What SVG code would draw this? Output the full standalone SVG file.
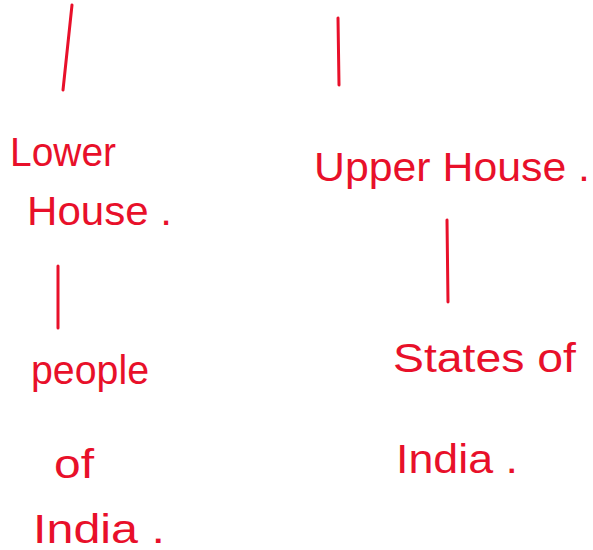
<svg xmlns="http://www.w3.org/2000/svg" width="593" height="550" viewBox="0 0 593 550">
<style>
.t{font-family:"Liberation Sans","DejaVu Sans",sans-serif;font-size:40px;fill:#e8102a;font-weight:normal}
.c{stroke:#e8102a;stroke-width:3;stroke-linecap:round;fill:none}
</style>
<rect width="593" height="550" fill="#ffffff"/>
<g id="connectors">
<path class="c" d="M72 5 L63 90"/>
<path class="c" d="M58 266 L58 328"/>
<path class="c" d="M338 18 L339 85"/>
<path class="c" d="M447 220 L448 302"/>
</g>
<g id="lower-house">
<text class="t" x="10" y="166" font-size="42" textLength="106" lengthAdjust="spacingAndGlyphs">Lower</text>
<text class="t" x="27" y="225" textLength="145" lengthAdjust="spacingAndGlyphs">House .</text>
</g>
<g id="upper-house">
<text class="t" x="314" y="181" font-size="44" textLength="276" lengthAdjust="spacingAndGlyphs">Upper House .</text>
</g>
<g id="people-of-india">
<text class="t" x="31" y="384" textLength="118" lengthAdjust="spacingAndGlyphs">people</text>
<text class="t" x="54" y="478" textLength="40" lengthAdjust="spacingAndGlyphs">of</text>
<text class="t" x="33" y="543" textLength="132" lengthAdjust="spacingAndGlyphs">India .</text>
</g>
<g id="states-of-india">
<text class="t" x="393" y="372" textLength="183" lengthAdjust="spacingAndGlyphs">States of</text>
<text class="t" x="396" y="473" textLength="122" lengthAdjust="spacingAndGlyphs">India .</text>
</g>
</svg>
